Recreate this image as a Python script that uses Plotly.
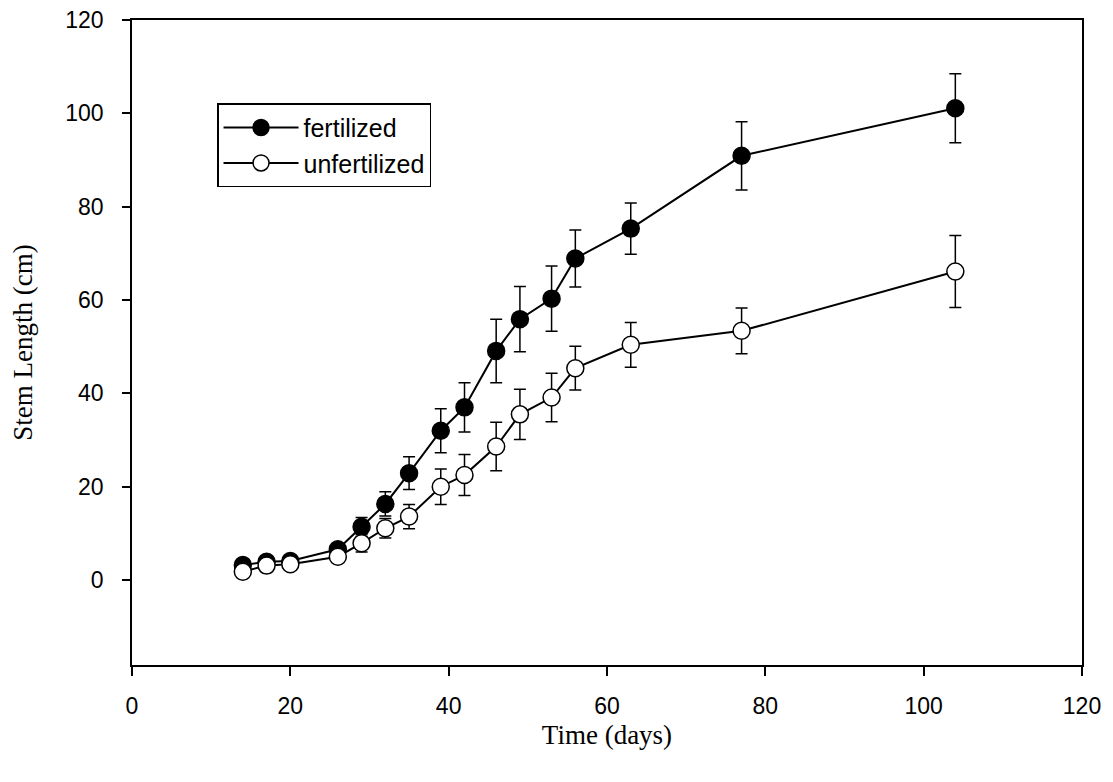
import plotly.graph_objects as go

days = [14, 17, 20, 26, 29, 32, 35, 39, 42, 46, 49, 53, 56, 63, 77, 104]
fertilized = [3.2, 3.9, 4.1, 6.6, 11.4, 16.3, 22.9, 32.0, 37.0, 49.1, 55.9, 60.3, 68.9, 75.3, 90.9, 101.1]
fertilized_err = [0.6, 0.7, 0.8, 1.2, 2.0, 2.6, 3.5, 4.7, 5.3, 6.8, 7.0, 7.0, 6.1, 5.5, 7.3, 7.4]
unfertilized = [1.8, 3.1, 3.4, 5.0, 7.9, 11.1, 13.6, 20.0, 22.5, 28.6, 35.5, 39.1, 45.4, 50.4, 53.4, 66.1]
unfertilized_err = [0.4, 0.5, 0.6, 1.0, 1.9, 2.1, 2.6, 3.8, 4.4, 5.2, 5.4, 5.2, 4.7, 4.8, 4.9, 7.7]

x_ticks = [0, 20, 40, 60, 80, 100, 120]
y_ticks = [0, 20, 40, 60, 80, 100, 120]

SANS = "Liberation Sans, Arial"
SERIF = "Liberation Serif, Times New Roman"

fig = go.Figure()
fig.add_trace(go.Scatter(
    x=days, y=fertilized, name="fertilized", mode="lines+markers",
    line=dict(color="black", width=2),
    marker=dict(size=17, color="black", line=dict(color="black", width=1.5)),
    error_y=dict(type="data", array=fertilized_err, visible=True,
                 color="black", thickness=1.5, width=6),
))
fig.add_trace(go.Scatter(
    x=days, y=unfertilized, name="unfertilized", mode="lines+markers",
    line=dict(color="black", width=2),
    marker=dict(size=17, color="white", line=dict(color="black", width=1.5)),
    error_y=dict(type="data", array=unfertilized_err, visible=True,
                 color="black", thickness=1.5, width=6),
))

fig.update_layout(
    width=1105, height=774,
    margin=dict(l=124, r=31, t=12, b=117),
    paper_bgcolor="white", plot_bgcolor="white",
    font=dict(family=SANS, size=23, color="black"),
    showlegend=True,
    legend=dict(
        x=0.0895, y=0.871, xanchor="left", yanchor="top",
        bgcolor="white", bordercolor="black", borderwidth=1.5,
        font=dict(family=SANS, size=25, color="black"),
        tracegroupgap=0, itemwidth=75,
    ),
)
fig.update_xaxes(
    range=[0, 120], tickvals=x_ticks, ticktext=[str(v) for v in x_ticks],
    showgrid=False, zeroline=False, automargin=False, ticklabeloverflow="allow",
    showline=True, linecolor="black", linewidth=1.8, mirror=True,
    ticks="outside", ticklen=9, tickwidth=1.5, tickcolor="black",
    tickfont=dict(family=SANS, size=23), ticklabelstandoff=10,
    title=dict(text="Time (days)", font=dict(family=SERIF, size=27), standoff=8),
)
fig.update_yaxes(
    range=[-18.2, 120], tickvals=y_ticks, ticktext=[str(v) for v in y_ticks],
    showgrid=False, zeroline=False, automargin=False, ticklabeloverflow="allow",
    showline=True, linecolor="black", linewidth=1.8, mirror=True,
    ticks="outside", ticklen=8, tickwidth=1.5, tickcolor="black",
    tickfont=dict(family=SANS, size=23), ticklabelstandoff=14,
    title=dict(text="Stem Length (cm)", font=dict(family=SERIF, size=27), standoff=26),
)

fig.write_html("out.html")
